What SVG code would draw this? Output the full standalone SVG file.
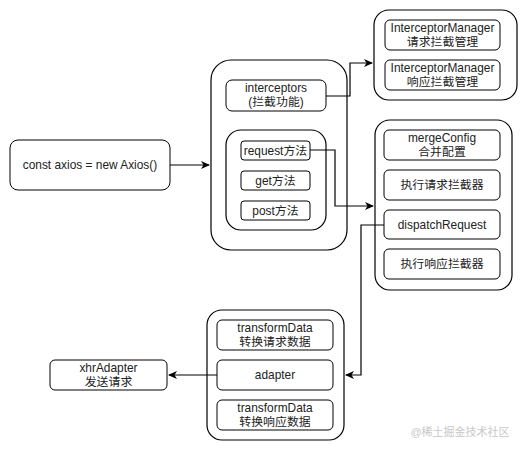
<svg xmlns="http://www.w3.org/2000/svg" width="521" height="451" viewBox="0 0 521 451">
<defs>
<marker id="arr" markerWidth="10" markerHeight="10" refX="8" refY="5" orient="auto" markerUnits="userSpaceOnUse">
<path d="M0,1 L9,5 L0,9 L2.5,5 Z" fill="#000"/>
</marker>
<style>
.c{fill:#fff;stroke:#000;stroke-width:1.2}
.b{fill:#fff;stroke:#000;stroke-width:1}
text{font-family:"Liberation Sans","Noto Sans CJK SC",sans-serif;font-size:11.9px;fill:#222;text-anchor:middle}
.e{fill:none;stroke:#000;stroke-width:1.2}
.wm{font-size:11px;fill:#c8c8c8}
</style>
</defs>
<rect width="521" height="451" fill="#fff"/>

<g id="axios">
<rect class="b" x="10" y="140" width="160" height="50" rx="8"/>
<text x="90" y="169">const axios = new Axios()</text>
</g>

<g id="axiosObj">
<rect class="c" x="211" y="60" width="136" height="190" rx="20"/>
</g>
<g id="interceptors">
<rect class="b" x="226" y="80" width="100" height="31" rx="6"/>
<text x="276" y="92">interceptors</text>
<text x="276" y="106">(拦截功能)</text>
</g>
<g id="methods">
<rect class="c" x="226" y="130" width="100" height="100" rx="15"/>
</g>
<g id="request">
<rect class="b" x="241" y="141" width="69" height="19" rx="3"/>
<text x="275.5" y="155">request方法</text>
</g>
<g id="get">
<rect class="b" x="241" y="171" width="69" height="19" rx="3"/>
<text x="275.5" y="185">get方法</text>
</g>
<g id="post">
<rect class="b" x="241" y="201" width="69" height="19" rx="3"/>
<text x="275.5" y="215">post方法</text>
</g>

<g id="managers">
<rect class="c" x="374" y="10" width="143" height="90" rx="15"/>
</g>
<g id="reqManager">
<rect class="b" x="385" y="20" width="115" height="30" rx="5"/>
<text x="442.5" y="32">InterceptorManager</text>
<text x="442.5" y="46">请求拦截管理</text>
</g>
<g id="resManager">
<rect class="b" x="385" y="60" width="115" height="30" rx="5"/>
<text x="442.5" y="72">InterceptorManager</text>
<text x="442.5" y="86">响应拦截管理</text>
</g>

<g id="requestFlow">
<rect class="c" x="375" y="120" width="137" height="170" rx="15"/>
</g>
<g id="mergeConfig">
<rect class="b" x="384" y="130" width="116" height="30" rx="5"/>
<text x="442" y="142">mergeConfig</text>
<text x="442" y="156">合并配置</text>
</g>
<g id="runReqInterceptors">
<rect class="b" x="384" y="170" width="116" height="30" rx="5"/>
<text x="442" y="189">执行请求拦截器</text>
</g>
<g id="dispatchRequest">
<rect class="b" x="384" y="210" width="116" height="29" rx="5"/>
<text x="442" y="229">dispatchRequest</text>
</g>
<g id="runResInterceptors">
<rect class="b" x="384" y="249" width="116" height="30" rx="5"/>
<text x="442" y="268">执行响应拦截器</text>
</g>

<g id="dispatch">
<rect class="c" x="207" y="310" width="137" height="130" rx="15"/>
</g>
<g id="transformReq">
<rect class="b" x="217" y="320" width="116" height="30" rx="5"/>
<text x="275" y="332">transformData</text>
<text x="275" y="346">转换请求数据</text>
</g>
<g id="adapter">
<rect class="b" x="217" y="360" width="116" height="30" rx="5"/>
<text x="275" y="379">adapter</text>
</g>
<g id="transformRes">
<rect class="b" x="217" y="400" width="116" height="30" rx="5"/>
<text x="275" y="412">transformData</text>
<text x="275" y="426">转换响应数据</text>
</g>

<g id="xhrAdapter">
<rect class="b" x="50" y="360" width="117" height="30" rx="5"/>
<text x="108.5" y="372">xhrAdapter</text>
<text x="108.5" y="386">发送请求</text>
</g>

<g id="connectors">
<path class="e" d="M170,165 H209" marker-end="url(#arr)"/>
<path class="e" d="M326,96 H350 V63 H372" marker-end="url(#arr)"/>
<path class="e" d="M310,150 H335 V206 H373" marker-end="url(#arr)"/>
<path class="e" d="M384,225 H361 V375 H346" marker-end="url(#arr)"/>
<path class="e" d="M217,375 H169" marker-end="url(#arr)"/>
</g>

<text class="wm" x="460" y="436">@稀土掘金技术社区</text>
</svg>
